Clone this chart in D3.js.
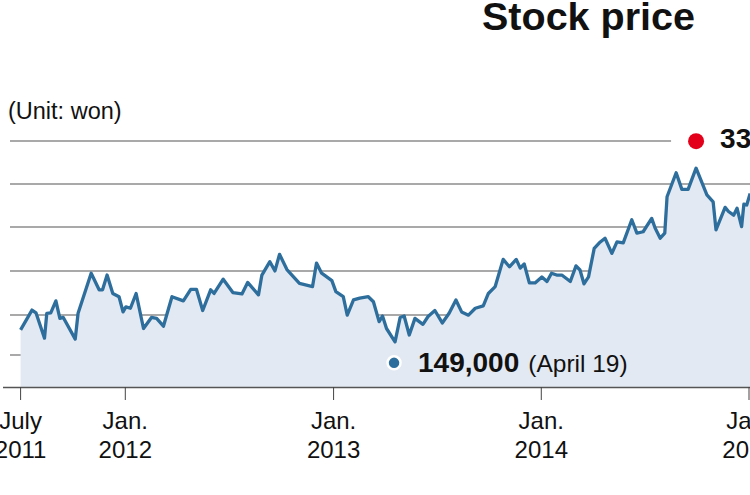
<!DOCTYPE html>
<html>
<head>
<meta charset="utf-8">
<script src="https://cdn.jsdelivr.net/npm/d3@7"></script>
<style>
  html, body { margin: 0; padding: 0; background: #fff; overflow: hidden; }
  svg { display: block; font-family: "Liberation Sans", Arial, Helvetica, sans-serif; }
</style>
</head>
<body>
<svg id="chart" width="750" height="495"></svg>
<script>
// ---- data ----
const dates = [
  "2011-07-01","2011-07-21","2011-07-28","2011-08-12","2011-08-16","2011-08-23","2011-09-01","2011-09-08","2011-09-14","2011-10-05",
  "2011-10-10","2011-11-02","2011-11-16","2011-11-22","2011-11-30","2011-12-10","2011-12-21","2011-12-28","2012-01-02","2012-01-10",
  "2012-01-20","2012-02-02","2012-02-16","2012-02-25","2012-03-08","2012-03-23","2012-04-12","2012-04-25","2012-05-05","2012-05-16",
  "2012-05-30","2012-06-05","2012-06-21","2012-07-08","2012-07-24","2012-08-03","2012-08-22","2012-08-28","2012-09-11","2012-09-20",
  "2012-09-28","2012-10-11","2012-11-02","2012-11-25","2012-12-02","2012-12-11","2012-12-29","2013-01-05","2013-01-18","2013-01-25",
  "2013-02-05","2013-02-16","2013-03-03","2013-03-12","2013-03-22","2013-03-28","2013-04-04","2013-04-19","2013-04-28","2013-05-05",
  "2013-05-14","2013-05-24","2013-06-07","2013-06-16","2013-06-28","2013-07-11","2013-07-23","2013-08-04","2013-08-14","2013-08-26",
  "2013-09-07","2013-09-21","2013-09-30","2013-10-12","2013-10-26","2013-11-06","2013-11-18","2013-11-25","2013-12-02","2013-12-11",
  "2013-12-21","2014-01-02","2014-01-11","2014-01-19","2014-01-28","2014-02-06","2014-02-21","2014-03-03","2014-03-10","2014-03-17",
  "2014-03-25","2014-04-04","2014-04-13","2014-04-23","2014-05-05","2014-05-14","2014-05-25","2014-06-09","2014-06-18","2014-06-29",
  "2014-07-14","2014-07-20","2014-07-29","2014-08-06","2014-08-10","2014-08-26","2014-09-05","2014-09-16","2014-09-30","2014-10-19",
  "2014-10-30","2014-11-04","2014-11-20","2014-11-26","2014-12-05","2014-12-11","2014-12-19","2014-12-23","2014-12-28","2015-01-03"
];
const prices = [
  162000,183500,180500,153000,180000,180500,193500,174500,175500,152000,
  180000,223500,205500,205500,221500,201500,198000,181500,187000,185500,
  201500,163500,175500,174500,166000,198000,193500,206000,206000,183000,
  205500,201500,217000,202500,201000,213500,200000,221500,236000,226000,
  244000,227500,212500,209000,234500,223500,215500,203500,198000,178000,
  194500,196500,198000,192500,171000,177000,163500,149000,175500,177000,
  156500,174500,168000,176500,183000,169500,180000,194500,181500,178000,
  185500,188000,201500,209000,238500,230500,238500,229000,233500,213000,
  213000,219500,214500,223500,221500,221500,214500,231500,227000,212000,
  219500,250500,256500,261500,245000,257500,256500,281500,267000,268500,
  283000,272500,261500,267000,306500,332500,314500,314500,337500,308500,
  301000,270500,295000,290500,286500,294000,274000,298500,297500,310000
];
const tickDates = ["2011-07-01","2012-01-01","2013-01-01","2014-01-01","2015-01-01"];
const tickMonths = ["July","Jan.","Jan.","Jan.","Jan."];
const tickYears = ["2011","2012","2013","2014","2015"];
const gridValues = [367000, 320300, 273700, 225900, 178100, 134700];
const lowLabel = "149,000";
const lowNote = "(April 19)";
const highLabel = "337,500";
const titleText = "Stock price";
const unitText = "(Unit: won)";

// ---- setup ----
const parse = d3.timeParse("%Y-%m-%d");
const data = dates.map((d, i) => ({ date: parse(d), value: prices[i] }));

const svg = d3.select("#chart");
const x = d3.scaleTime()
  .domain([parse("2011-07-01"), parse("2015-01-01")])
  .range([20.6, 749]);
const y = d3.scaleLinear()
  .domain([100000, 367000])
  .range([387, 141]);

const ink = "#111";
const lineColor = "#2d6e9d";
const areaColor = "#e3e9f2";

// title
svg.append("text")
  .attr("x", 482).attr("y", 30)
  .attr("font-size", 39.5).attr("font-weight", "bold").attr("fill", ink)
  .text(titleText);

// unit
svg.append("text")
  .attr("x", 8).attr("y", 119)
  .attr("font-size", 23.5).attr("fill", ink)
  .text(unitText);

// find extremes
const minD = data.reduce((a, b) => (b.value < a.value ? b : a));
const maxD = data.reduce((a, b) => (b.value > a.value ? b : a));

// gridlines
svg.append("g").selectAll("line")
  .data(gridValues)
  .join("line")
  .attr("x1", 10)
  .attr("x2", (d, i) => i === 0 ? x(maxD.date) - 25 : 750)
  .attr("y1", d => y(d)).attr("y2", d => y(d))
  .attr("stroke", "#8c8c8c").attr("stroke-width", 1.6);

// area
const area = d3.area()
  .x(d => x(d.date))
  .y0(y(100000))
  .y1(d => y(d.value));
svg.append("path")
  .datum(data)
  .attr("d", area)
  .attr("fill", areaColor);

// line
const line = d3.line()
  .x(d => x(d.date))
  .y(d => y(d.value));
svg.append("path")
  .datum(data)
  .attr("d", line)
  .attr("fill", "none")
  .attr("stroke", lineColor)
  .attr("stroke-width", 3.3)
  .attr("stroke-linejoin", "round");

// axis
const axisY = y(100000);
svg.append("line")
  .attr("x1", 3).attr("x2", 750)
  .attr("y1", axisY + 0.5).attr("y2", axisY + 0.5)
  .attr("stroke", "#555").attr("stroke-width", 1.6);

const ticks = svg.append("g").selectAll("g")
  .data(tickDates.map((d, i) => ({ date: parse(d), m: tickMonths[i], yr: tickYears[i] })))
  .join("g")
  .attr("transform", d => `translate(${x(d.date)},0)`);
ticks.append("line")
  .attr("y1", axisY).attr("y2", axisY + 13)
  .attr("stroke", "#444").attr("stroke-width", 1);
ticks.append("text")
  .attr("y", 429).attr("text-anchor", "middle")
  .attr("font-size", 24).attr("fill", ink)
  .text(d => d.m);
ticks.append("text")
  .attr("y", 458).attr("text-anchor", "middle")
  .attr("font-size", 24).attr("fill", ink)
  .text(d => d.yr);

// low marker
const lx = x(minD.date) - 1, ly = y(minD.value) + 21;
svg.append("circle")
  .attr("cx", lx).attr("cy", ly).attr("r", 6.5)
  .attr("fill", lineColor).attr("stroke", "#fff").attr("stroke-width", 2.5);
const lt = svg.append("text")
  .attr("x", lx + 24).attr("y", ly + 9)
  .attr("fill", ink);
lt.append("tspan").attr("font-size", 28).attr("font-weight", "bold").text(lowLabel);
lt.append("tspan").attr("dx", 9).attr("font-size", 24.5).text(lowNote);

// high marker
const hx = x(maxD.date), hy = y(maxD.value) - 27;
svg.append("circle")
  .attr("cx", hx).attr("cy", hy).attr("r", 8)
  .attr("fill", "#e2001a");
svg.append("text")
  .attr("x", hx + 24).attr("y", hy + 7)
  .attr("font-size", 28).attr("font-weight", "bold").attr("fill", ink)
  .text(highLabel);
</script>
</body>
</html>
